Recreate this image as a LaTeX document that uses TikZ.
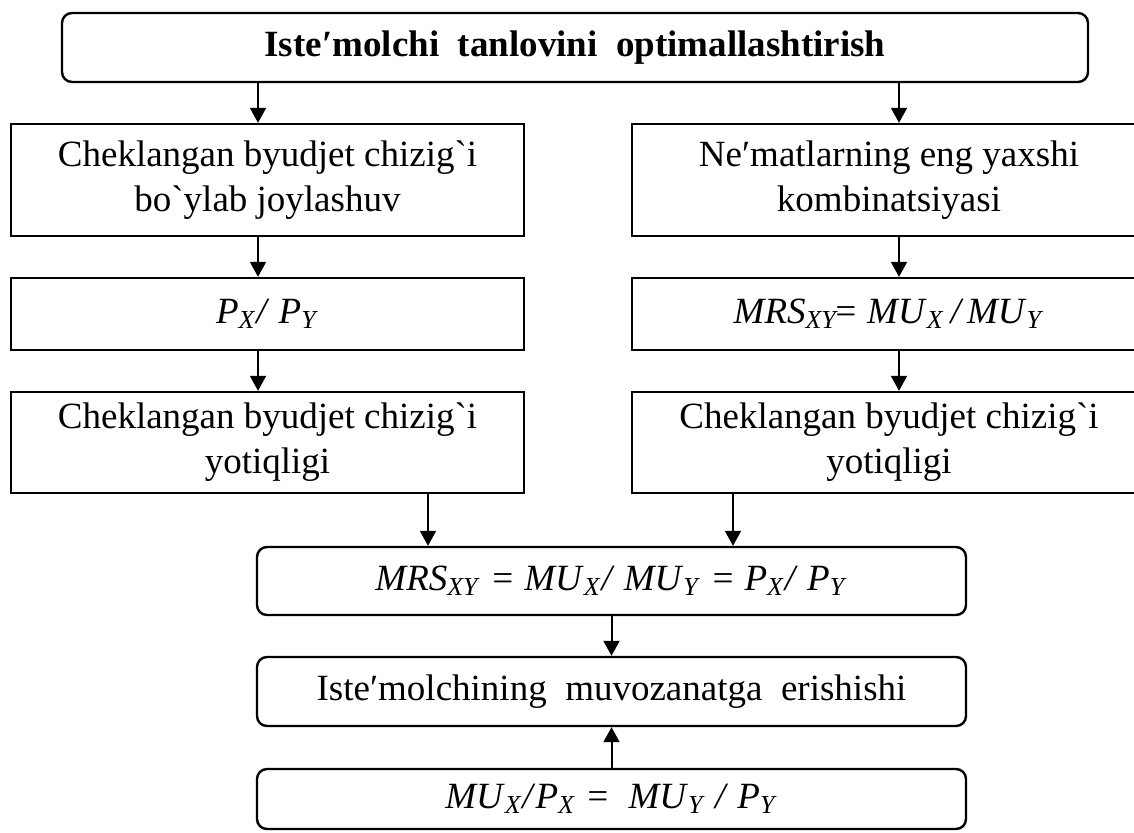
\documentclass[tikz,border=0pt]{standalone}
\usepackage{fontspec}
\setmainfont{Liberation Serif}
\usetikzlibrary{arrows.meta}

\newcommand{\vsub}[2]{\textit{#1}\textsubscript{\textit{#2}}}

\begin{document}
\begin{tikzpicture}[
  x=0.5pt,y=-0.5pt,
  font=\fontsize{18.5}{22.5}\selectfont,
  box/.style={draw,line width=1.2pt,align=center,inner sep=0pt},
  rbox/.style={box,rounded corners=5pt},
  link/.style={-{Triangle[length=7.5pt,width=8pt]},line width=1pt},
]
\path[use as bounding box,clip] (0,0) rectangle (1134,832);

% top
\node[rbox,minimum width=513pt,minimum height=34.5pt] (title) at (575,47.5)
  {\bfseries Iste′molchi\ \ tanlovini\ \ optimallashtirish};

% two columns
\node[box,minimum width=256.5pt,minimum height=56pt] (bl1) at (267.5,180)
  {Cheklangan byudjet chizig\textasciigrave i\\bo\textasciigrave ylab joylashuv};
\node[box,minimum width=257pt,minimum height=56pt] (br1) at (889,180)
  {Ne′matlarning eng yaxshi\\kombinatsiyasi};

\node[box,minimum width=256.5pt,minimum height=36pt] (bl2) at (267.5,314)
  {\vsub{P}{X}\textit{/} \vsub{P}{Y}};
\node[box,minimum width=257pt,minimum height=36pt] (br2) at (889,314)
  {\vsub{MRS}{XY}\!\textit{=} \vsub{MU}{X}\textit{\,/\,}\vsub{MU}{Y}};

\node[box,minimum width=256.5pt,minimum height=50.5pt] (bl3) at (267.5,442.5)
  {Cheklangan byudjet chizig\textasciigrave i\\yotiqligi};
\node[box,minimum width=257pt,minimum height=50.5pt] (br3) at (889,442.5)
  {Cheklangan byudjet chizig\textasciigrave i\\yotiqligi};

% result
\node[rbox,minimum width=354.5pt,minimum height=34pt] (eq) at (611.5,581)
  {\vsub{MRS}{XY} \textit{=} \vsub{MU}{X}\textit{/ }\vsub{MU}{Y} \textit{=} \vsub{P}{X}\textit{/ }\vsub{P}{Y}};
\node[rbox,minimum width=354.5pt,minimum height=34.5pt] (equil) at (611.5,691.5)
  {Iste′molchining\ \ muvozanatga\ \ erishishi};
\node[rbox,minimum width=354.5pt,minimum height=30pt] (cond) at (611.5,799)
  {\vsub{MU}{X}\textit{/}\vsub{P}{X} \textit{=}\ \ \vsub{MU}{Y}\textit{ / }\vsub{P}{Y}};

\coordinate (lc) at (258,0);
\coordinate (rc) at (899,0);
\coordinate (ml) at (428,0);
\coordinate (mr) at (733,0);

\draw[link] (title.south -| lc) -- (bl1.north -| lc);
\draw[link] (title.south -| rc) -- (br1.north -| rc);
\draw[link] (bl1.south -| lc) -- (bl2.north -| lc);
\draw[link] (br1.south -| rc) -- (br2.north -| rc);
\draw[link] (bl2.south -| lc) -- (bl3.north -| lc);
\draw[link] (br2.south -| rc) -- (br3.north -| rc);
\draw[link] (bl3.south -| ml) -- (eq.north -| ml);
\draw[link] (br3.south -| mr) -- (eq.north -| mr);
\draw[link] (eq.south) -- (equil.north);
\draw[link] (cond.north) -- (equil.south);
\end{tikzpicture}
\end{document}
